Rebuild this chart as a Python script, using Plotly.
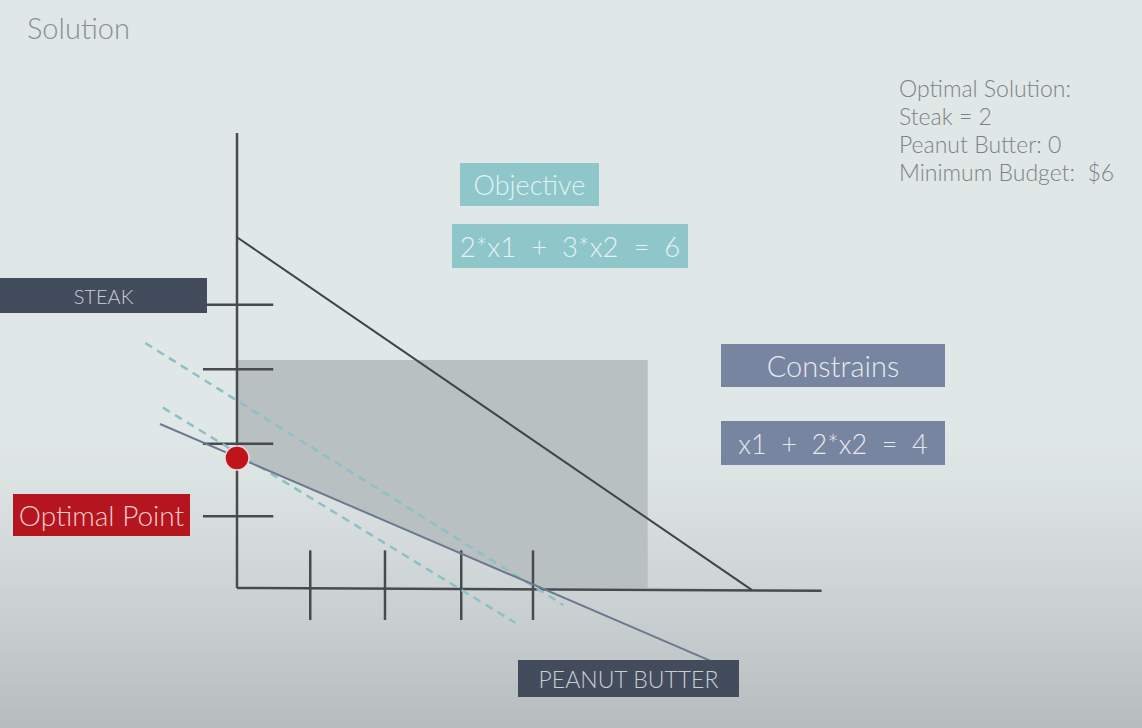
import plotly.graph_objects as go

# chart units: one tick step on each axis
steak_ticks = [1.01, 2.03, 3.08, 3.99]        # ticks on the steak (vertical) axis
pb_ticks = [0.99, 2.0, 3.03, 4.0]             # ticks on the peanut butter (horizontal) axis
steak_axis_top = 6.41
pb_axis_end = 7.9

# feasible area (gray) and lines
region_x = [0, 5.55, 5.55, 4.11, 0]
region_y = [3.21, 3.21, 0, 0, 1.844]
objective_x = [0, 6.96]
objective_y = [4.94, -0.03]
constraint_x = [-1.04, 6.43]
constraint_y = [2.31, -1.04]
iso_a_x = [-1.24, 4.41]
iso_a_y = [3.45, -0.24]
iso_b_x = [-1.00, 3.76]
iso_b_y = [2.54, -0.49]
optimal_x = [0]
optimal_y = [1.83]

solution_lines = ['Optimal Solution:', 'Steak = 2', 'Peanut Butter: 0', 'Minimum Budget:  $6']

W, H = 1142, 728
ox, oy, sx, sy = 237, 588, 74, 71   # origin pixel and pixels per unit
FONT = 'Lato'
AX = '#474b4f'
SP = '\u00a0' * 2

fig = go.Figure()

fig.add_trace(go.Scatter(x=region_x, y=region_y, fill='toself', fillcolor='#b9c0c1',
                         line=dict(width=0), mode='lines'))

# axes and ticks
fig.add_trace(go.Scatter(x=[0, 0], y=[0, steak_axis_top], mode='lines', line=dict(color=AX, width=2.5)))
fig.add_trace(go.Scatter(x=[0, pb_axis_end], y=[0, -0.04], mode='lines', line=dict(color=AX, width=2.5)))
for t in steak_ticks:
    fig.add_trace(go.Scatter(x=[-0.46, 0.49], y=[t, t], mode='lines', line=dict(color=AX, width=2.5)))
for t in pb_ticks:
    fig.add_trace(go.Scatter(x=[t, t], y=[0.53, -0.45], mode='lines', line=dict(color=AX, width=2.5)))

fig.add_trace(go.Scatter(x=objective_x, y=objective_y, mode='lines', line=dict(color='#3f4448', width=2)))
fig.add_trace(go.Scatter(x=iso_a_x, y=iso_a_y, mode='lines', line=dict(color='#8cc1c5', width=2.5, dash='8px,6px')))
fig.add_trace(go.Scatter(x=iso_b_x, y=iso_b_y, mode='lines', line=dict(color='#8cc1c5', width=2.5, dash='8px,6px')))
fig.add_trace(go.Scatter(x=constraint_x, y=constraint_y, mode='lines', line=dict(color='#6b7a90', width=2)))
fig.add_trace(go.Scatter(x=optimal_x, y=optimal_y, mode='markers',
                         marker=dict(size=24, color='#c0141c', line=dict(color='#f3d6d6', width=1.5))))

# background gradient toward the bottom
shapes = []
top_c, bot_c = (224, 231, 231), (182, 187, 189)
n = 40
y0 = 430
for i in range(n):
    a = y0 + (H - y0) * i / n
    b = y0 + (H - y0) * (i + 1) / n + 2
    f = ((i + 0.5) / n) ** 1.3
    c = tuple(int(round(top_c[k] + (bot_c[k] - top_c[k]) * f)) for k in range(3))
    shapes.append(dict(type='rect', xref='paper', yref='paper', layer='below',
                       x0=0, x1=1, y0=1 - b / H, y1=1 - a / H,
                       fillcolor='rgb(%d,%d,%d)' % c, line=dict(width=0)))


def box(x0, y0, x1, y1, color, text, size, tcolor):
    shapes.append(dict(type='rect', xref='paper', yref='paper',
                       x0=x0 / W, x1=x1 / W, y0=1 - y1 / H, y1=1 - y0 / H,
                       fillcolor=color, line=dict(width=0),
                       label=dict(text=text, font=dict(family=FONT, size=size, color=tcolor, weight=300),
                                  textposition='middle center')))


box(460, 163, 599, 206, '#8ec6ca', 'Objective', 27, '#e3f2f2')
box(452, 224, 688, 268, '#8ec6ca', SP.join(['2*x1', '+', '3*x2', '=', '6']), 27.5, '#e3f2f2')
box(721, 344, 945, 387, '#7785a0', 'Constrains', 29, '#e6e9ee')
box(721, 421, 945, 465, '#7785a0', SP.join(['x1', '+', '2*x2', '=', '4']), 27, '#e6e9ee')
box(0, 278, 207, 313, '#434c5c', 'STEAK', 20, '#c9ced5')
box(13, 494, 190, 536, '#b5151e', 'Optimal Point', 28, '#f2cfcf')
box(518, 660, 739, 697, '#434c5c', 'PEANUT BUTTER', 23, '#c9ced5')

annotations = [dict(text='Solution', xref='paper', yref='paper', x=25 / W, y=1 - 28 / H,
                    xanchor='left', yanchor='middle', showarrow=False,
                    font=dict(family=FONT, size=29, color='#8a8f91', weight=300))]
for i, line in enumerate(solution_lines):
    annotations.append(dict(text=line, xref='paper', yref='paper', x=897 / W, y=1 - (88 + 28 * i) / H,
                            xanchor='left', yanchor='middle', showarrow=False,
                            font=dict(family=FONT, size=23, color='#7d8284', weight=300)))

fig.update_layout(
    width=W, height=H, margin=dict(l=0, r=0, t=0, b=0, pad=0),
    paper_bgcolor='#e0e7e7', plot_bgcolor='rgba(0,0,0,0)',
    showlegend=False, hovermode=False,
    xaxis=dict(range=[-ox / sx, (W - ox) / sx], visible=False, fixedrange=True),
    yaxis=dict(range=[-(H - oy) / sy, oy / sy], visible=False, fixedrange=True),
    shapes=shapes, annotations=annotations,
)

fig.write_html("out.html", config=dict(displayModeBar=False),
               post_script="document.body.style.margin='0';document.body.style.overflow='hidden';")
